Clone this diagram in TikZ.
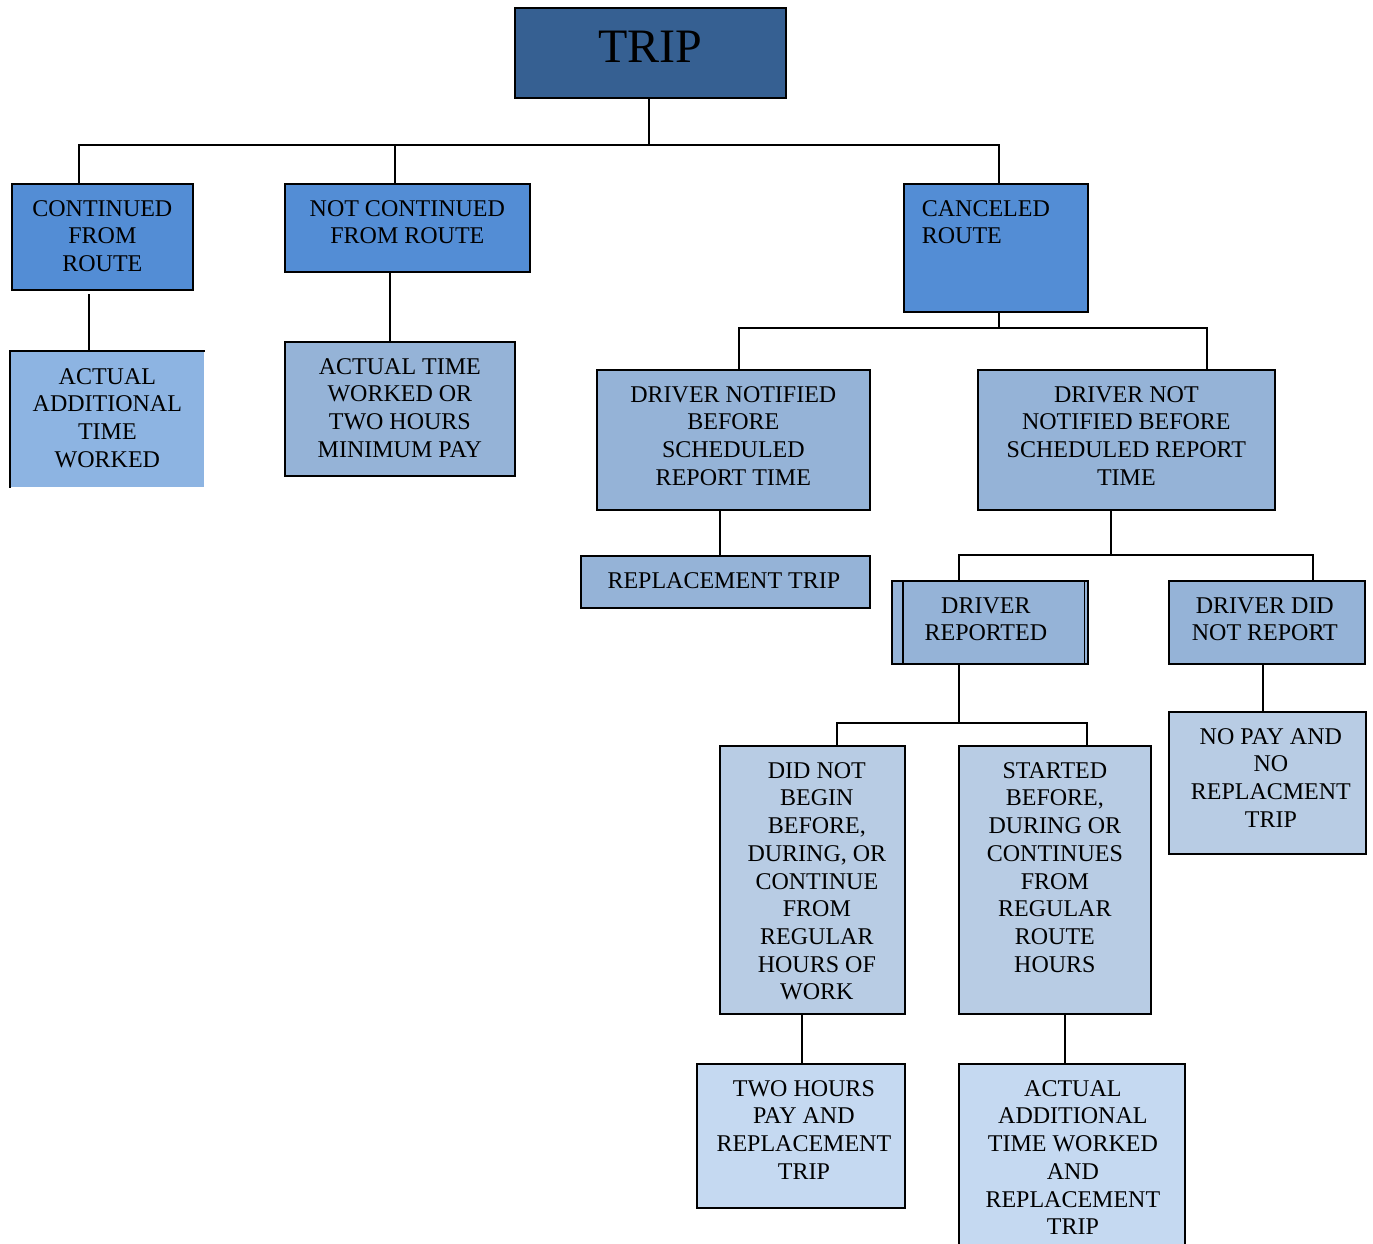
\documentclass[tikz,border=0pt]{standalone}
\usepackage{fontspec}
\setmainfont{Liberation Serif}
\usetikzlibrary{calc}
\definecolor{tripblue}{HTML}{366092}
\definecolor{lvlone}{HTML}{538DD5}
\definecolor{lvltwo}{HTML}{95B3D7}
\definecolor{lvlside}{HTML}{8DB4E2}
\definecolor{lvlthree}{HTML}{B8CCE4}
\definecolor{lvlfour}{HTML}{C5D9F1}
% box text: [horizontal offset], width, height, text (top aligned)
\newcommand{\bxtext}[4][0pt]{\parbox[t][#3pt][t]{#2pt}{\centering\advance\leftskip by #1\relax\vspace*{16.5pt}#4}}
\newcommand{\bxtextl}[3]{\parbox[t][#2pt][t]{#1pt}{\raggedright\leftskip=18pt\vspace*{16.5pt}#3}}
\tikzset{
  bx/.style={draw=black, line width=1.7pt, inner sep=0pt, anchor=north west,
    font=\fontsize{24}{27.7}\selectfont},
  conn/.style={draw=black, line width=1.7pt},
}
\begin{document}
\begin{tikzpicture}[x=1pt,y=-1pt]
\useasboundingbox[fill=white] (0,0) rectangle (1373,1243);
% nodes
\node[bx, fill=tripblue, minimum width=271, minimum height=90,
  font=\fontsize{48}{54}\selectfont, text depth=12pt] (trip) at (514,7) {TRIP};
\node[bx, fill=lvlone] (cont) at (11,183)
  {\bxtext{181}{106}{CONTINUED\\FROM\\ROUTE}};
\node[bx, fill=lvlone] (notc) at (284,183)
  {\bxtext{245}{88}{NOT CONTINUED\\FROM ROUTE}};
\node[bx, fill=lvlone] (canc) at (903,183)
  {\bxtextl{184}{128}{CANCELED\\ROUTE}};
\node[bx, draw=none, fill=lvlside] (act1) at (10,351)
  {\bxtext{193}{135}{ACTUAL\\ADDITIONAL\\TIME\\WORKED}};
\draw[line width=1.3pt] (act1.south west) -- (act1.north west) -- (act1.north east);
\node[bx, fill=lvltwo] (act2) at (284,341)
  {\bxtext{230}{134}{ACTUAL TIME\\WORKED OR\\TWO HOURS\\MINIMUM PAY}};
\node[bx, fill=lvltwo] (dn) at (596,369)
  {\bxtext{273}{140}{DRIVER NOTIFIED\\BEFORE\\SCHEDULED\\REPORT TIME}};
\node[bx, fill=lvltwo] (dnn) at (977,369)
  {\bxtext{297}{140}{DRIVER NOT\\NOTIFIED BEFORE\\SCHEDULED REPORT\\TIME}};
\node[bx, fill=lvltwo] (rt) at (580,555)
  {\bxtext[-3pt]{289}{52}{REPLACEMENT TRIP}};
\node[bx, fill=lvltwo] (dr) at (891,580)
  {\bxtext[-8pt]{196}{83}{DRIVER\\REPORTED}};
\draw[line width=1.3pt] ([xshift=12pt]dr.north west) -- ([xshift=12pt]dr.south west)
  ([xshift=-4pt]dr.north east) -- ([xshift=-4pt]dr.south east);
\node[bx, fill=lvltwo] (dd) at (1168,580)
  {\bxtext[-4pt]{196}{83}{DRIVER DID\\NOT REPORT}};
\node[bx, fill=lvlthree] (nopay) at (1168,711)
  {\bxtext[7pt]{197}{142}{NO PAY AND\\NO\\REPLACMENT\\TRIP}};
\node[bx, fill=lvlthree] (dnb) at (719,745)
  {\bxtext[9pt]{185}{268}{DID NOT\\BEGIN\\BEFORE,\\DURING, OR\\CONTINUE\\FROM\\REGULAR\\HOURS OF\\WORK}};
\node[bx, fill=lvlthree] (sb) at (958,745)
  {\bxtext{192}{268}{STARTED\\BEFORE,\\DURING OR\\CONTINUES\\FROM\\REGULAR\\ROUTE\\HOURS}};
\node[bx, fill=lvlfour] (twoh) at (696,1063)
  {\bxtext[6pt]{208}{144}{TWO HOURS\\PAY AND\\REPLACEMENT\\TRIP}};
\node[bx, fill=lvlfour] (aat) at (958,1063)
  {\bxtext[2pt]{226}{200}{ACTUAL\\ADDITIONAL\\TIME WORKED\\AND\\REPLACEMENT\\TRIP}};
% bus coordinates
\coordinate (busa) at (0,145);
\coordinate (busb) at (0,328);
\coordinate (busc) at (0,555);
\coordinate (busd) at (0,723);
\coordinate (gapa) at (0,294);
% connectors
\draw[conn] ([xshift=-1.5pt]trip.south) -- ([xshift=-1.5pt]trip.south |- busa);
\draw[conn] ([xshift=-23.5pt]cont.north) |- ([xshift=3pt]canc.north |- busa) -- ([xshift=3pt]canc.north);
\draw[conn] ([xshift=-12.5pt]notc.north) -- ([xshift=-12.5pt]notc.north |- busa);
\draw[conn] ([xshift=-18.5pt]act1.north) -- ([xshift=-18.5pt]act1.north |- gapa);
\draw[conn] ([xshift=-10pt]act2.north) -- ([xshift=-10pt]act2.north |- notc.south);
\draw[conn] ([xshift=3pt]canc.south) -- ([xshift=3pt]canc.south |- busb);
\draw[conn] ([xshift=5.5pt]dn.north) |- ([xshift=80.5pt]dnn.north |- busb) -- ([xshift=80.5pt]dnn.north);
\draw[conn] ([xshift=-5.5pt]rt.north) -- ([xshift=-5.5pt]rt.north |- dn.south);
\draw[conn] ([xshift=-15.5pt]dnn.south) -- ([xshift=-15.5pt]dnn.south |- busc);
\draw[conn] ([xshift=-31pt]dr.north) |- ([xshift=46pt]dd.north |- busc) -- ([xshift=46pt]dd.north);
\draw[conn] ([xshift=-4.5pt]nopay.north) -- ([xshift=-4.5pt]nopay.north |- dd.south);
\draw[conn] ([xshift=-31pt]dr.south) -- ([xshift=-31pt]dr.south |- busd);
\draw[conn] ([xshift=24.5pt]dnb.north) |- ([xshift=32pt]sb.north |- busd) -- ([xshift=32pt]sb.north);
\draw[conn] ([xshift=1pt]twoh.north) -- ([xshift=1pt]twoh.north |- dnb.south);
\draw[conn] ([xshift=-7pt]aat.north) -- ([xshift=-7pt]aat.north |- sb.south);
\end{tikzpicture}
\end{document}
